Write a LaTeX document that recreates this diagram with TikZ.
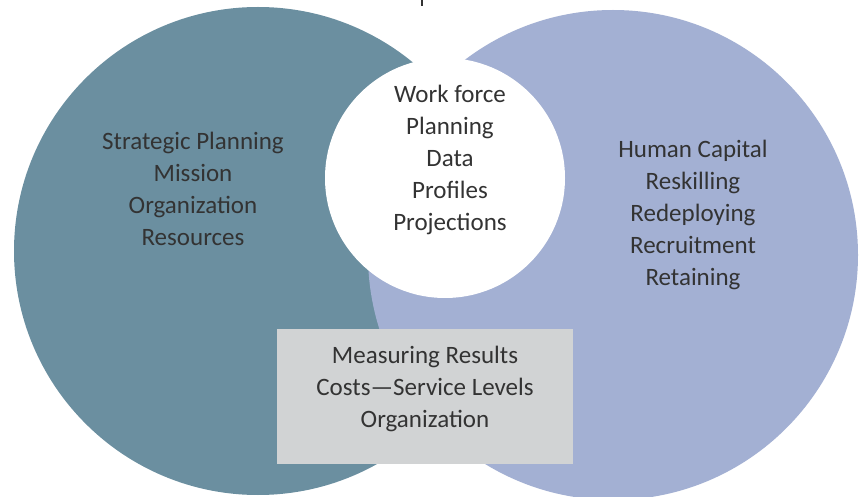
\documentclass[tikz,border=0pt]{standalone}
\usepackage{fontspec}
\setmainfont{Carlito}
\definecolor{teal}{HTML}{6B8FA0}
\definecolor{lavender}{HTML}{A3B0D3}
\definecolor{boxgrey}{HTML}{D1D3D4}
\definecolor{ink}{HTML}{333333}
\begin{document}
\begin{tikzpicture}[x=1pt,y=-1pt,
  disc/.style={circle,draw=none,inner sep=0pt},
  label/.style={text=ink,align=center,font=\fontsize{25}{31.8}\selectfont,inner sep=0pt}]
\useasboundingbox (0,0) rectangle (863,497);
\fill[white] (0,0) rectangle (863,497);
% the two overlapping circles and the white centre
\node[disc,fill=teal,minimum size=488pt] (left) at (258,251) {};
\node[disc,fill=lavender,minimum size=490pt] (right) at (613,255) {};
\node[disc,fill=white,minimum size=240pt] (core) at (445,178) {};
% results box
\node[fill=boxgrey,minimum width=296pt,minimum height=135pt,inner sep=0pt] (results) at (425,396.5) {};
% small tick at the top edge
\coordinate (tickA) at (422,0);
\coordinate (tickB) at (422,6);
\draw[ink,line width=1.2pt] (tickA) -- (tickB);
% texts
\node[label] (lt) at (193,189) {Strategic Planning\\Mission\\Organization\\Resources};
\node[label] (ct) at (450,160) {Work force\\Planning\\Data\\Profiles\\Projections};
\node[label] (rt) at (693,215) {Human Capital\\Reskilling\\Redeploying\\Recruitment\\Retaining};
\node[label] (bt) at (425,389) {Measuring Results\\Costs---Service Levels\\Organization};
\end{tikzpicture}
\end{document}
